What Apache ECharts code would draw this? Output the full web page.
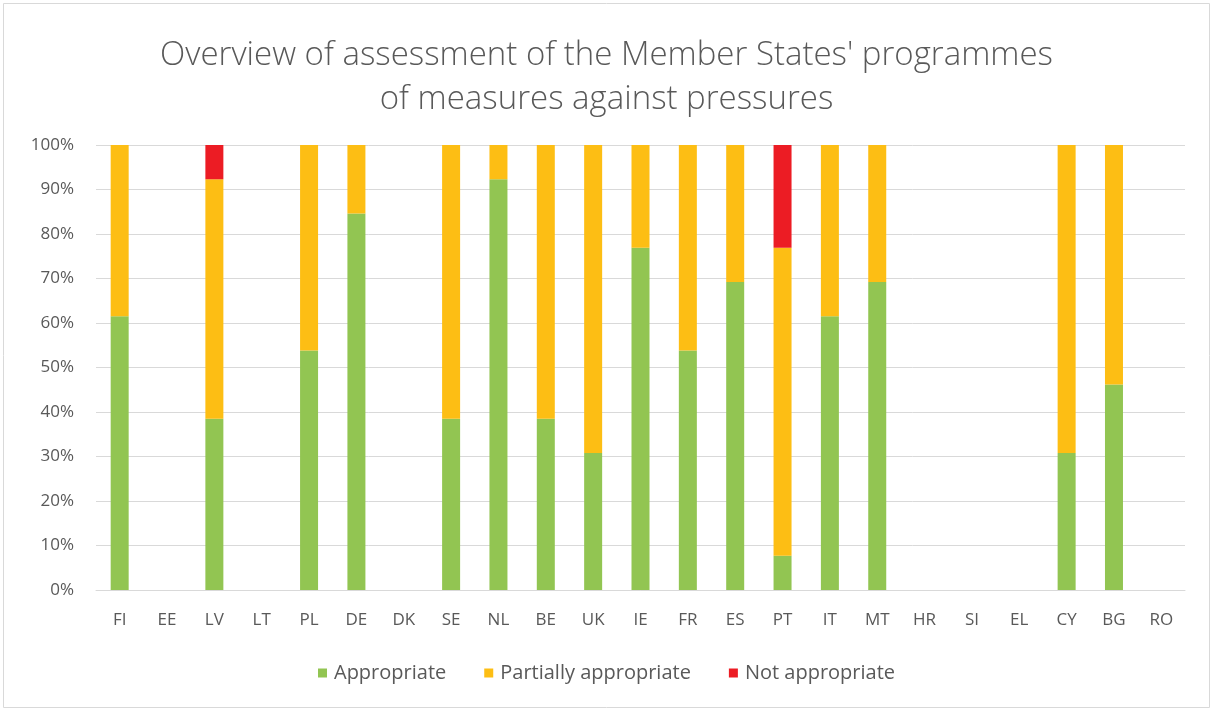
<!DOCTYPE html>
<html><head><meta charset="utf-8">
<script src="https://cdn.jsdelivr.net/npm/echarts@6/dist/echarts.min.js"></script>
<style>html,body{margin:0;padding:0;background:#fff}#c{width:1213px;height:711px}</style>
</head><body><div id="c"></div>
<script>
const categories = ['FI','EE','LV','LT','PL','DE','DK','SE','NL','BE','UK','IE','FR','ES','PT','IT','MT','HR','SI','EL','CY','BG','RO'];
const appropriate = [61.5,null,38.5,null,53.8,84.6,null,38.5,92.3,38.5,30.8,76.9,53.8,69.2,7.7,61.5,69.2,null,null,null,30.8,46.2,null];
const partially = [38.5,null,53.8,null,46.2,15.4,null,61.5,7.7,61.5,69.2,23.1,46.2,30.8,69.2,38.5,30.8,null,null,null,69.2,53.8,null];
const notAppropriate = [null,null,7.7,null,null,null,null,null,null,null,null,null,null,null,23.1,null,null,null,null,null,null,null,null];
const yTicks = [0,10,20,30,40,50,60,70,80,90,100];

const font = "'Open Sans', 'Noto Sans', sans-serif";
const chart = echarts.init(document.getElementById('c'), null, {renderer:'canvas'});
chart.setOption({
  animation:false,
  graphic:[{type:'rect',shape:{x:3.5,y:3.5,width:1206,height:704},style:{fill:'none',stroke:'#d9d9d9',lineWidth:1}}],
  title:{text:"Overview of assessment of the Member States' programmes\nof measures against pressures",left:'center',top:29,
    textStyle:{fontFamily:font,fontWeight:300,fontSize:33,color:'#595959',lineHeight:44}},
  legend:{bottom:23,left:'center',itemWidth:9,itemHeight:9,itemGap:38,icon:'rect',
    textStyle:{fontFamily:font,fontSize:20,color:'#595959',padding:[0,0,0,2]}},
  grid:{left:96,right:28,top:145,bottom:121},
  xAxis:{type:'category',data:categories,
    axisLine:{lineStyle:{color:'#d9d9d9'}},axisTick:{show:false},
    axisLabel:{fontFamily:font,fontSize:17,color:'#595959',margin:22}},
  yAxis:{type:'value',min:0,max:100,interval:10,
    axisLine:{show:false},axisTick:{show:false},
    splitLine:{lineStyle:{color:'#d9d9d9',width:1}},
    axisLabel:{fontFamily:font,fontSize:17,color:'#595959',margin:22,formatter:v=>yTicks.includes(v)?v+'%':''}},
  series:[
    {name:'Appropriate',type:'bar',stack:'s',data:appropriate,barWidth:18,itemStyle:{color:'#92C552'}},
    {name:'Partially appropriate',type:'bar',stack:'s',data:partially,barWidth:18,itemStyle:{color:'#FDBE14'}},
    {name:'Not appropriate',type:'bar',stack:'s',data:notAppropriate,barWidth:18,itemStyle:{color:'#EC1C24'}}
  ]
});
</script></body></html>
